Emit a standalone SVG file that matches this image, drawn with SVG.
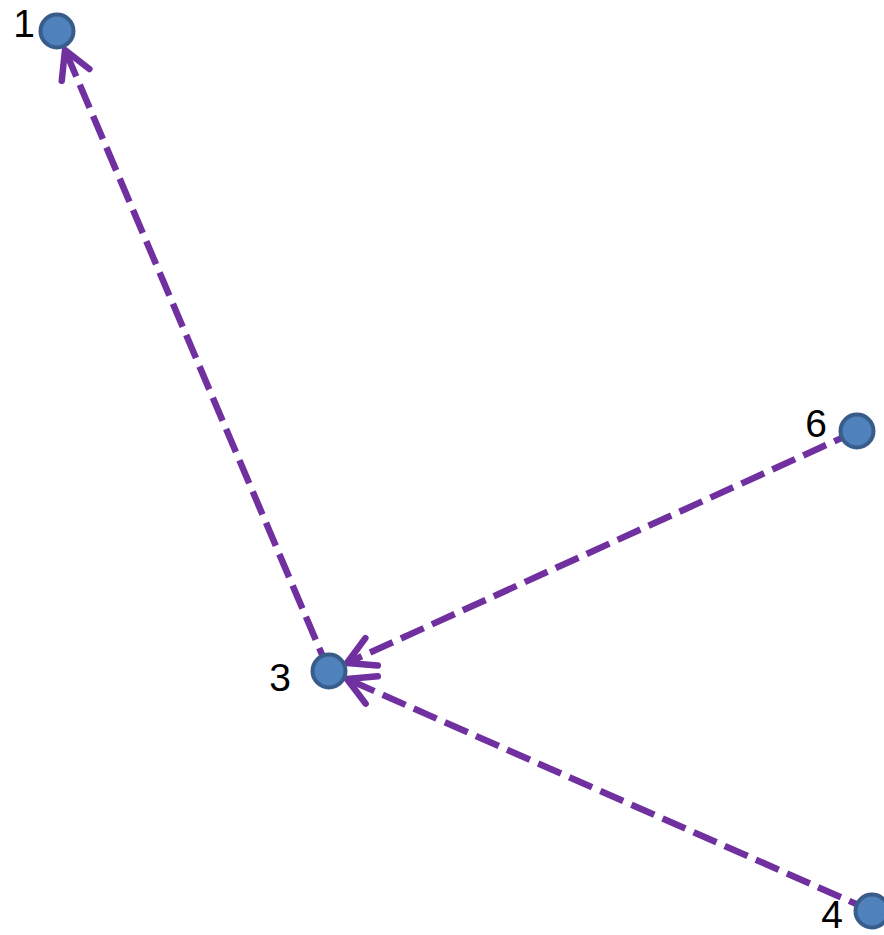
<svg xmlns="http://www.w3.org/2000/svg" width="884" height="935" viewBox="0 0 884 935">
<style>
.edge{fill:none;stroke:#7030A0;stroke-width:6.5;stroke-dasharray:25 9;marker-end:url(#arr)}
.node circle{fill:#4F81BD;stroke:#385D8A;stroke-width:4}
.node text{font-family:"Liberation Sans",Arial,sans-serif;font-size:39px;fill:#000;text-anchor:middle}
</style>
<defs>
<marker id="arr" markerUnits="userSpaceOnUse" orient="auto" markerWidth="60" markerHeight="60" refX="0" refY="0" viewBox="-40 -30 60 60" overflow="visible">
<path d="M-27,-15 L0,0 L-27,15" fill="none" stroke="#7030A0" stroke-width="6.5" stroke-linecap="round" stroke-linejoin="round"/>
</marker>
</defs>
<g id="connectors">
<line class="edge" x1="329" y1="671" x2="65" y2="50"/>
<line class="edge" x1="857" y1="431" x2="347" y2="663"/>
<line class="edge" x1="872" y1="911" x2="347" y2="679"/>
</g>
<g id="node1" class="node"><circle cx="57" cy="31" r="16.5"/><text x="24" y="37">1</text></g>
<g id="node3" class="node"><circle cx="329" cy="671" r="16.5"/><text x="280" y="691">3</text></g>
<g id="node6" class="node"><circle cx="857" cy="431" r="16.5"/><text x="816" y="437">6</text></g>
<g id="node4" class="node"><circle cx="872" cy="911" r="16.5"/><text x="832" y="928">4</text></g>
</svg>
